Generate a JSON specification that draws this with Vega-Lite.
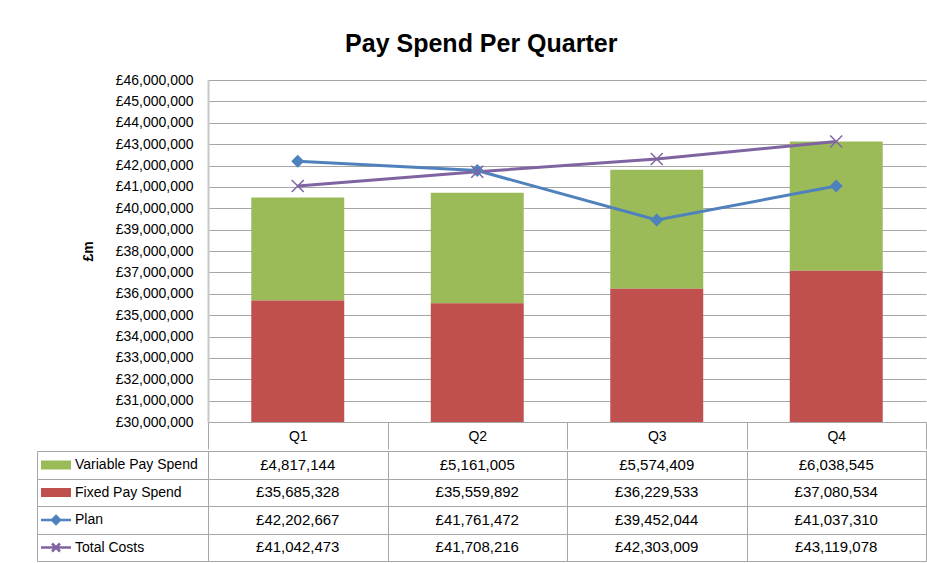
{
  "$schema": "https://vega.github.io/schema/vega-lite/v6.json",
  "padding": {"left": 36, "top": 32, "right": 0, "bottom": 0},
  "config": {
    "locale": {"number": {"decimal": ".", "thousands": ",", "grouping": [3], "currency": ["£", ""]}},
    "font": "Liberation Sans",
    "view": {"stroke": null},
    "axis": {"labelFont": "Liberation Sans", "titleFont": "Liberation Sans", "labelColor": "black", "titleColor": "black"},
    "legend": {"labelFont": "Liberation Sans"}
  },
  "title": {"text": "Pay Spend Per Quarter", "fontSize": 25, "font": "Liberation Sans", "fontWeight": "bold", "color": "black", "anchor": "middle", "offset": 16},
  "spacing": 0,
  "datasets": {
    "pay": [
      {"quarter": "Q1", "series": "Variable Pay Spend", "value": 4817144},
      {"quarter": "Q2", "series": "Variable Pay Spend", "value": 5161005},
      {"quarter": "Q3", "series": "Variable Pay Spend", "value": 5574409},
      {"quarter": "Q4", "series": "Variable Pay Spend", "value": 6038545},
      {"quarter": "Q1", "series": "Fixed Pay Spend", "value": 35685328},
      {"quarter": "Q2", "series": "Fixed Pay Spend", "value": 35559892},
      {"quarter": "Q3", "series": "Fixed Pay Spend", "value": 36229533},
      {"quarter": "Q4", "series": "Fixed Pay Spend", "value": 37080534},
      {"quarter": "Q1", "series": "Plan", "value": 42202667},
      {"quarter": "Q2", "series": "Plan", "value": 41761472},
      {"quarter": "Q3", "series": "Plan", "value": 39452044},
      {"quarter": "Q4", "series": "Plan", "value": 41037310},
      {"quarter": "Q1", "series": "Total Costs", "value": 41042473},
      {"quarter": "Q2", "series": "Total Costs", "value": 41708216},
      {"quarter": "Q3", "series": "Total Costs", "value": 42303009},
      {"quarter": "Q4", "series": "Total Costs", "value": 43119078}
    ]
  },
  "resolve": {"scale": {"color": "independent", "stroke": "independent", "shape": "independent"}, "legend": {"color": "independent", "stroke": "independent", "shape": "independent"}},
  "vconcat": [
    {
      "width": 718,
      "height": 342,
      "data": {"name": "pay"},
      "encoding": {
        "x": {
          "field": "quarter", "type": "nominal",
          "scale": {"domain": ["Q1", "Q2", "Q3", "Q4"], "paddingInner": 0, "paddingOuter": 0},
          "axis": {"title": null, "labelAngle": 0, "tickBand": "extent", "tickSize": 27, "tickColor": "#a6a6a6", "domainColor": "#a6a6a6", "labelPadding": -20, "labelBaseline": "top", "labelFontSize": 14, "grid": false}
        }
      },
      "layer": [
        {
          "transform": [{"filter": {"field": "series", "oneOf": ["Variable Pay Spend", "Fixed Pay Spend"]}}],
          "mark": {"type": "bar", "clip": true, "width": {"band": 0.518}},
          "encoding": {
            "y": {
              "field": "value", "type": "quantitative", "stack": "zero",
              "scale": {"domain": [30000000, 46000000], "zero": false, "nice": false},
              "axis": {"values": [30000000, 31000000, 32000000, 33000000, 34000000, 35000000, 36000000, 37000000, 38000000, 39000000, 40000000, 41000000, 42000000, 43000000, 44000000, 45000000, 46000000], "format": "$,.0f", "labelFontSize": 14, "labelPadding": 15, "ticks": false, "grid": true, "gridColor": "#a6a6a6", "domainColor": "#c8c8c8", "domainWidth": 2, "title": "£m", "titleFontSize": 14, "titleFontWeight": "bold", "titlePadding": 20}
            },
            "color": {
              "field": "series", "type": "nominal",
              "scale": {"domain": ["Variable Pay Spend", "Fixed Pay Spend", "Plan", "Total Costs"], "range": ["#9BBB59", "#C0504D", "#4F81BD", "#8064A2"]},
              "legend": null
            },
            "order": {"field": "series", "sort": "ascending"}
          }
        },
        {
          "transform": [{"filter": {"field": "series", "oneOf": ["Plan", "Total Costs"]}}],
          "mark": {"type": "line", "strokeWidth": 3},
          "encoding": {
            "y": {"field": "value", "type": "quantitative", "axis": {"orient": "left", "offset": 171, "domainOpacity": 0, "labels": false, "ticks": false, "grid": false, "title": null}},
            "color": {"field": "series", "type": "nominal", "legend": null}
          }
        },
        {
          "transform": [{"filter": {"field": "series", "equal": "Plan"}}],
          "mark": {"type": "point", "shape": "diamond", "filled": true, "size": 170, "opacity": 1, "color": "#4F81BD"},
          "encoding": {
            "y": {"field": "value", "type": "quantitative", "axis": null}
          }
        },
        {
          "transform": [{"filter": {"field": "series", "equal": "Total Costs"}}],
          "mark": {"type": "point", "shape": "M-1,-1L1,1M-1,1L1,-1", "filled": false, "size": 144, "strokeWidth": 1.5, "opacity": 1, "color": "#8064A2"},
          "encoding": {
            "y": {"field": "value", "type": "quantitative", "axis": null}
          }
        }
      ],
      "resolve": {"axis": {"y": "independent"}}
    },
    {
      "width": 718,
      "height": 110,
      "view": {"stroke": "#a6a6a6"},
      "data": {"name": "pay"},
      "encoding": {
        "y": {"field": "series", "type": "nominal", "scale": {"domain": ["Variable Pay Spend", "Fixed Pay Spend", "Plan", "Total Costs"], "paddingInner": 0, "paddingOuter": 0}}
      },
      "layer": [
        {
          "mark": {"type": "text", "fontSize": 15, "font": "Liberation Sans", "color": "black"},
          "encoding": {
            "x": {
              "field": "quarter", "type": "nominal",
              "scale": {"domain": ["Q1", "Q2", "Q3", "Q4"], "paddingInner": 0, "paddingOuter": 0},
              "axis": {"orient": "top", "grid": true, "gridColor": "#a6a6a6", "tickBand": "extent", "labels": false, "ticks": false, "domain": false, "title": null}
            },
            "y": {"field": "series", "type": "nominal", "axis": {"grid": true, "gridColor": "#a6a6a6", "tickBand": "extent", "labels": false, "ticks": false, "domain": false, "title": null}},
            "text": {"field": "value", "type": "quantitative", "format": "$,.0f"}
          }
        },
        {
          "transform": [{"filter": "false"}],
          "mark": {"type": "point", "filled": true, "opacity": 1},
          "encoding": {
            "y": {"field": "series", "type": "nominal", "axis": {"orient": "left", "offset": 171, "tickBand": "extent", "tickSize": -171, "tickColor": "#a6a6a6", "domainColor": "#a6a6a6", "labels": false, "grid": false, "title": null}},
            "color": {
              "field": "series", "type": "nominal",
              "scale": {"domain": ["Variable Pay Spend", "Fixed Pay Spend", "Plan", "Total Costs"], "range": ["#9BBB59", "#C0504D", "#4F81BD", "#8064A2"]},
              "legend": {"orient": "none", "legendX": -159, "legendY": 7, "title": null, "padding": 0, "labelFontSize": 14, "labelColor": "black", "symbolSize": 100, "symbolStrokeWidth": 2.5, "rowPadding": 9.5, "labelOffset": 12}
            },
            "stroke": {
              "field": "series", "type": "nominal",
              "scale": {"domain": ["Variable Pay Spend", "Fixed Pay Spend", "Plan", "Total Costs"], "range": ["#9BBB59", "#C0504D", "#4F81BD", "#8064A2"]},
              "legend": {"orient": "none", "legendX": -159, "legendY": 7, "title": null, "padding": 0, "labelFontSize": 14, "labelColor": "black", "symbolSize": 100, "symbolStrokeWidth": 2.5, "rowPadding": 9.5, "labelOffset": 12}
            },
            "shape": {
              "field": "series", "type": "nominal",
              "scale": {"domain": ["Variable Pay Spend", "Fixed Pay Spend", "Plan", "Total Costs"], "range": ["M-2.75,-0.65H2.75V0.65H-2.75Z", "M-2.75,-0.65H2.75V0.65H-2.75Z", "M-3,0H3M0,-0.8L0.8,0L0,0.8L-0.8,0Z", "M-3,0H3M-0.8,-0.8L0.8,0.8M-0.8,0.8L0.8,-0.8"]},
              "legend": {"orient": "none", "legendX": -159, "legendY": 7, "title": null, "padding": 0, "labelFontSize": 14, "labelColor": "black", "symbolSize": 100, "symbolStrokeWidth": 2.5, "rowPadding": 9.5, "labelOffset": 12}
            }
          }
        }
      ],
      "resolve": {"axis": {"y": "independent"}}
    }
  ]
}
